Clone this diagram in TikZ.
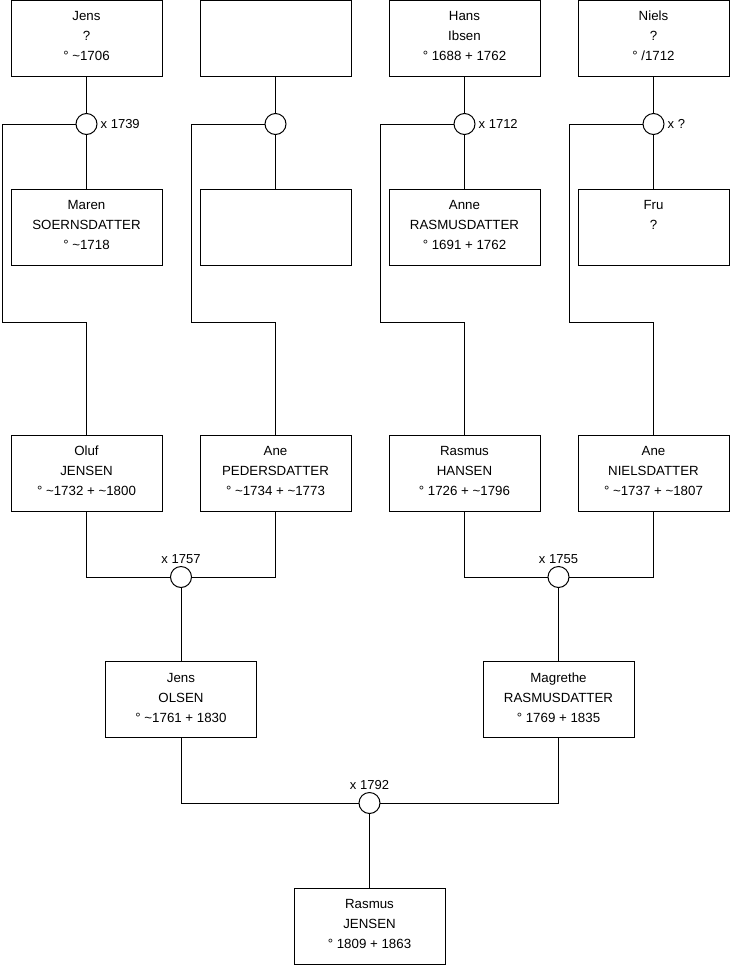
\documentclass[tikz,border=0pt]{standalone}
\usepackage{fontspec}
\setmainfont{Liberation Sans}
\begin{document}
\begin{tikzpicture}[x=1pt,y=-1pt,
  pbox/.style={draw=black,line width=1pt,fill=white,minimum width=151pt,minimum height=76pt,inner sep=0pt},
  ptext/.style={align=center,inner sep=0pt,yshift=2pt,font=\fontsize{13.3}{20}\selectfont},
  marr/.style={draw=black,line width=1pt,fill=white,circle,minimum size=21pt,inner sep=0pt},
  conn/.style={draw=black,line width=1pt},
  lab/.style={inner sep=0pt,font=\fontsize{13}{15}\selectfont}]
\useasboundingbox (0,0) rectangle (740,975);
\fill[white] (0,0) rectangle (740,975);
\coordinate (c1) at (86.5,124);
\coordinate (c2) at (275.5,124);
\coordinate (c3) at (464.5,124);
\coordinate (c4) at (653.5,124);
% top row
\node[pbox] (t1) at (86.5,38) {};
\node[pbox] (t2) at (275.5,38) {};
\node[pbox] (t3) at (464.5,38) {};
\node[pbox] (t4) at (653.5,38) {};
% wives
\node[pbox] (w1) at (86.5,227) {};
\node[pbox] (w2) at (275.5,227) {};
\node[pbox] (w3) at (464.5,227) {};
\node[pbox] (w4) at (653.5,227) {};
% middle row
\node[pbox] (m1) at (86.5,473) {};
\node[pbox] (m2) at (275.5,473) {};
\node[pbox] (m3) at (464.5,473) {};
\node[pbox] (m4) at (653.5,473) {};
% third row
\node[pbox] (p1) at (181,699.5) {};
\node[pbox] (p2) at (558.5,699.5) {};
% bottom
\node[pbox] (r) at (369.5,926) {};
% turn points
\coordinate (a1) at (2.5,124);   \coordinate (b1) at (2.5,322);   \coordinate (d1) at (86.5,322);
\coordinate (a2) at (191.5,124); \coordinate (b2) at (191.5,322); \coordinate (d2) at (275.5,322);
\coordinate (a3) at (380.5,124); \coordinate (b3) at (380.5,322); \coordinate (d3) at (464.5,322);
\coordinate (a4) at (569.5,124); \coordinate (b4) at (569.5,322); \coordinate (d4) at (653.5,322);
\coordinate (e1) at (86.5,577);  \coordinate (f1) at (275.5,577);
\coordinate (e2) at (464.5,577); \coordinate (f2) at (653.5,577);
\coordinate (g1) at (181,803);   \coordinate (g2) at (558.5,803);
% connectors
\foreach \i in {1,2,3,4}{
  \draw[conn] (t\i.south) -- (w\i.north);
  \draw[conn] (c\i) -- (a\i) -- (b\i) -- (d\i) -- (m\i.north);
}
\draw[conn] (m1.south) -- (e1) -- (f1) -- (m2.south);
\draw[conn] (m3.south) -- (e2) -- (f2) -- (m4.south);
\node[marr] (k1) at (181,577) {};
\node[marr] (k2) at (558.5,577) {};
\draw[conn] (k1) -- (p1.north);
\draw[conn] (k2) -- (p2.north);
\draw[conn] (p1.south) -- (g1) -- (g2) -- (p2.south);
\node[marr] (k3) at (369.5,803) {};
\draw[conn] (k3) -- (r.north);
% top marriage circles
\node[marr] (o1) at (c1) {};
\node[marr] (o2) at (c2) {};
\node[marr] (o3) at (c3) {};
\node[marr] (o4) at (c4) {};
% texts
\node[ptext] at (t1) {Jens\\?\\° \textasciitilde1706};
\node[ptext] at (t3) {Hans\\Ibsen\\° 1688 + 1762};
\node[ptext] at (t4) {Niels\\?\\° /1712};
\node[ptext] at (w1) {Maren\\SOERNSDATTER\\° \textasciitilde1718};
\node[ptext] at (w3) {Anne\\RASMUSDATTER\\° 1691 + 1762};
\node[ptext, yshift=10pt] at (w4) {Fru\\?};
\node[ptext] at (m1) {Oluf\\JENSEN\\° \textasciitilde1732 + \textasciitilde1800};
\node[ptext] at (m2) {Ane\\PEDERSDATTER\\° \textasciitilde1734 + \textasciitilde1773};
\node[ptext] at (m3) {Rasmus\\HANSEN\\° 1726 + \textasciitilde1796};
\node[ptext] at (m4) {Ane\\NIELSDATTER\\° \textasciitilde1737 + \textasciitilde1807};
\node[ptext] at (p1) {Jens\\OLSEN\\° \textasciitilde1761 + 1830};
\node[ptext] at (p2) {Magrethe\\RASMUSDATTER\\° 1769 + 1835};
\node[ptext] at (r) {Rasmus\\JENSEN\\° 1809 + 1863};
% marriage labels
\node[lab,anchor=west] at ([xshift=3pt]o1.east) {x 1739};
\node[lab,anchor=west] at ([xshift=3pt]o3.east) {x 1712};
\node[lab,anchor=west] at ([xshift=3pt]o4.east) {x ?};
\node[lab,anchor=base] at (181,563) {x 1757};
\node[lab,anchor=base] at (558.5,563) {x 1755};
\node[lab,anchor=base] at (369.5,789) {x 1792};
\end{tikzpicture}
\end{document}
